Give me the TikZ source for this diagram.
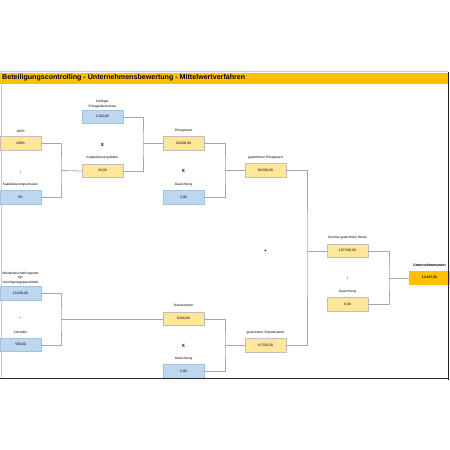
\documentclass[tikz,border=0pt]{standalone}
\usepackage{fontspec}
\setmainfont{Liberation Sans}
\definecolor{ylw}{HTML}{FFE699}
\definecolor{ylwb}{HTML}{BFBFBF}
\definecolor{blu}{HTML}{BDD7EE}
\definecolor{blub}{HTML}{9DC3E6}
\definecolor{org}{HTML}{FFC000}
\definecolor{lnc}{HTML}{A6A6A6}
\begin{document}
\begin{tikzpicture}[x=1pt,y=-1pt,
  valbox/.style={minimum width=41pt,minimum height=13.5pt,inner sep=0pt,draw,line width=0.7pt,font=\fontsize{3.4}{4}\selectfont},
  ybox/.style={valbox,fill=ylw,draw=ylwb},
  bbox/.style={valbox,fill=blu,draw=blub},
  obox/.style={valbox,fill=org,draw=org,font=\fontsize{3.4}{4}\selectfont\bfseries},
  lbl/.style={inner sep=0pt,align=center,font=\fontsize{3.3}{4.3}\selectfont},
  blbl/.style={lbl,font=\fontsize{3.6}{4.3}\selectfont\bfseries},
  op/.style={inner sep=0pt,font=\fontsize{4.6}{5}\selectfont\bfseries},
  conn/.style={draw=lnc,line width=0.8pt}]
\useasboundingbox (0,0) rectangle (450,450);
% frame and title
\fill[org] (0,72.5) rectangle (448,83.5);
\draw[lnc!60,line width=1pt] (0,71.5) -- (448,71.5);
\draw[lnc!60,line width=1pt] (1,71.5) -- (1,378);
\node[anchor=west,inner sep=0pt,font=\fontsize{7.1}{7.5}\selectfont\bfseries] (title) at (2,78) {Beteiligungscontrolling - Unternehmensbewertung - Mittelwertverfahren};
% boxes
\node[bbox] (kE) at (102.5,117) {1.000,00};
\node[lbl] (kEl) at (102.5,104) {künftiger\\Ertragsüberschuss};
\node[op] (x1) at (102.5,145) {X};
\node[ybox] (kf) at (102.5,171) {20,00};
\node[lbl] (kfl) at (102.5,158) {Kapitalisierungsfaktor};
\node[ybox] (p100) at (20.5,143.5) {100\%};
\node[lbl] (p100l) at (20.5,131) {100\%};
\node[op] (d1) at (20.5,172) {:};
\node[bbox] (kz) at (20.5,197.5) {5\%};
\node[lbl] (kzl) at (20.5,185) {Kapitalisierungszinssatz};
\node[ybox] (ew) at (183.5,143.5) {20.000,00};
\node[lbl] (ewl) at (183.5,130.5) {Ertragswert};
\node[op] (x2) at (183.5,171) {X};
\node[bbox] (g1) at (183.5,197.5) {3,00};
\node[lbl] (g1l) at (183.5,184.5) {Gewichtung};
\node[ybox] (gew) at (265.5,170.5) {60.000,00};
\node[lbl] (gewl) at (265.5,157.5) {gewichteter Ertragswert};
\node[op] (pl) at (265.5,251) {+};
\node[ybox] (sum) at (347.5,251) {107.500,00};
\node[lbl] (suml) at (347.5,238) {Summe gewichteter Werte};
\node[op] (d2) at (347.5,278) {:};
\node[ybox] (g3) at (347.5,304.5) {8,00};
\node[lbl] (g3l) at (347.5,291.5) {Gewichtung};
\node[obox] (uw) at (429.5,278) {13.437,50};
\node[blbl] (uwl) at (429.5,265) {Unternehmenswert};
\node[bbox] (wb) at (20.5,293.5) {10.000,00};
\node[lbl] (wbl) at (20.5,278) {Wiederbeschaffungswert\\der\\Vermögensgegenstände};
\node[op] (mi) at (20.5,319) {-};
\node[bbox] (sch) at (20.5,345) {500,00};
\node[lbl] (schl) at (20.5,332) {Schulden};
\node[ybox] (sw) at (183.5,319) {9.500,00};
\node[lbl] (swl) at (183.5,305.5) {Substanzwert};
\node[op] (x3) at (183.5,346) {X};
\node[bbox] (g2) at (183.5,371.5) {5,00};
\node[lbl] (g2l) at (183.5,358.5) {Gewichtung};
\node[ybox] (gsw) at (265.5,345.5) {47.500,00};
\node[lbl] (gswl) at (265.5,332.5) {gewichteter Substanzwert};
% junctions
\coordinate (j0) at (61,170.5);
\coordinate (j1) at (143,143.5);
\coordinate (j2) at (225,170.5);
\coordinate (j3) at (307,251);
\coordinate (j4) at (389,278);
\coordinate (j5) at (61,319);
\coordinate (j6) at (225,345.5);
% connectors
\draw[conn] (p100.east) -| (j0) |- (kz.east);
\draw[conn] (j0) -- (kf.west);
\draw[conn] (kE.east) -| (j1) |- (kf.east);
\draw[conn] (j1) -- (ew.west);
\draw[conn] (ew.east) -| (j2) |- (g1.east);
\draw[conn] (j2) -- (gew.west);
\draw[conn] (gew.east) -| (j3) |- (gsw.east);
\draw[conn] (j3) -- (sum.west);
\draw[conn] (sum.east) -| (j4) |- (g3.east);
\draw[conn] (j4) -- (uw.west);
\draw[conn] (wb.east) -| (j5) |- (sch.east);
\draw[conn] (j5) -- (sw.west);
\draw[conn] (sw.east) -| (j6) |- (g2.east);
\draw[conn] (j6) -- (gsw.west);
% bottom and right border
\draw[black!85,line width=1pt] (0,378) -- (448.5,378);
\draw[black!85,line width=1pt] (448.5,72) -- (448.5,380);
\end{tikzpicture}
\end{document}
